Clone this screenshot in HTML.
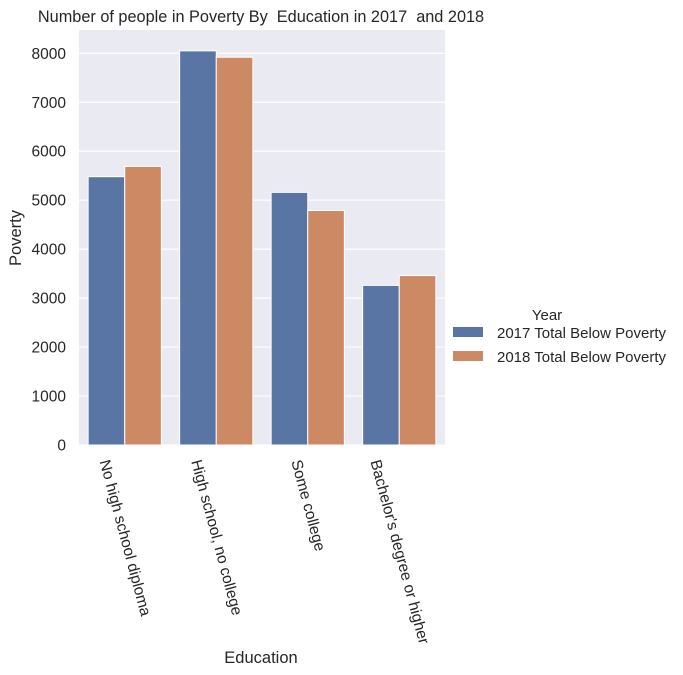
<!DOCTYPE html>
<html><head><meta charset="utf-8"><style>
body{margin:0;background:#fff;}
svg{display:block;font-family:"Liberation Sans","DejaVu Sans",sans-serif;}
</style></head><body>
<svg id="chart" width="683" height="675">
<text x="261" y="22" text-anchor="middle" font-size="16.3" fill="#262626" xml:space="preserve" style="white-space:pre">Number of people in Poverty By  Education in 2017  and 2018</text>
<rect x="79" y="30" width="366" height="415" fill="#eaeaf2"/>
<g id="grid"></g><g id="bars"></g><g id="yticks"></g><g id="xticks"></g>
<text x="261" y="663" text-anchor="middle" font-size="16.5" fill="#262626">Education</text>
<text transform="translate(21,238) rotate(-90)" text-anchor="middle" font-size="16.5" fill="#262626">Poverty</text>
<g>
<text x="547" y="320" text-anchor="middle" font-size="15" fill="#262626">Year</text>
<rect x="453" y="327" width="30" height="10" fill="#5875a4"/>
<text x="497" y="338" font-size="15" fill="#262626">2017 Total Below Poverty</text>
<rect x="453" y="351" width="30" height="10" fill="#cc8963"/>
<text x="497" y="362" font-size="15" fill="#262626">2018 Total Below Poverty</text>
</g>
</svg>
<script>
const categories = ["No high school diploma","High school, no college","Some college","Bachelor's degree or higher"];
const values2017 = [5480, 8050, 5160, 3260];
const values2018 = [5690, 7920, 4790, 3460];
const yTicks = [0,1000,2000,3000,4000,5000,6000,7000,8000];
const NS="http://www.w3.org/2000/svg";
const X0=79,X1=445,Y0=445,YTOP=30,YMAX=(445-30)/48.96*1000;
function y(v){return Y0-(v/YMAX)*(Y0-YTOP);}
const band=(X1-X0)/categories.length;
function bx(i){return X0+band*i+band*0.1;}
const bw=band*0.8/2;
function mk(tag,attrs,parent){const e=document.createElementNS(NS,tag);for(const k in attrs)e.setAttribute(k,attrs[k]);document.getElementById(parent).appendChild(e);return e;}
yTicks.forEach(t=>{
  const l=mk('line',{x1:X0,x2:X1,y1:y(t),y2:y(t),stroke:'#fff','stroke-width':1.2},'grid');
  
  
  const tx=mk('text',{x:66,y:y(t)+5.5,'text-anchor':'end','font-size':15.5,fill:'#262626'},'yticks');
  tx.textContent=t;
  
  
});
categories.forEach((c,i)=>{
  [[values2017,'#5875a4','2017'],[values2018,'#cc8963','2018']].forEach(([arr,col,yr],j)=>{
    const r=mk('rect',{x:bx(i)+j*bw,y:y(arr[i]),width:bw,height:Y0-y(arr[i]),fill:col,stroke:'#fff','stroke-width':1},'bars');
    
    
  });
  const cx=X0+band*(i+0.5);
  const t=mk('text',{'text-anchor':'middle','dominant-baseline':'central','font-size':15.5,fill:'#262626'},'xticks');
  t.textContent=c;
  
  
  const L=t.getComputedTextLength();
  const a=75*Math.PI/180;
  const h=L*Math.sin(a)+17*Math.cos(a);
  t.setAttribute('transform','translate('+cx+','+(458+h/2)+') rotate(75)');
});
</script>
</body></html>
